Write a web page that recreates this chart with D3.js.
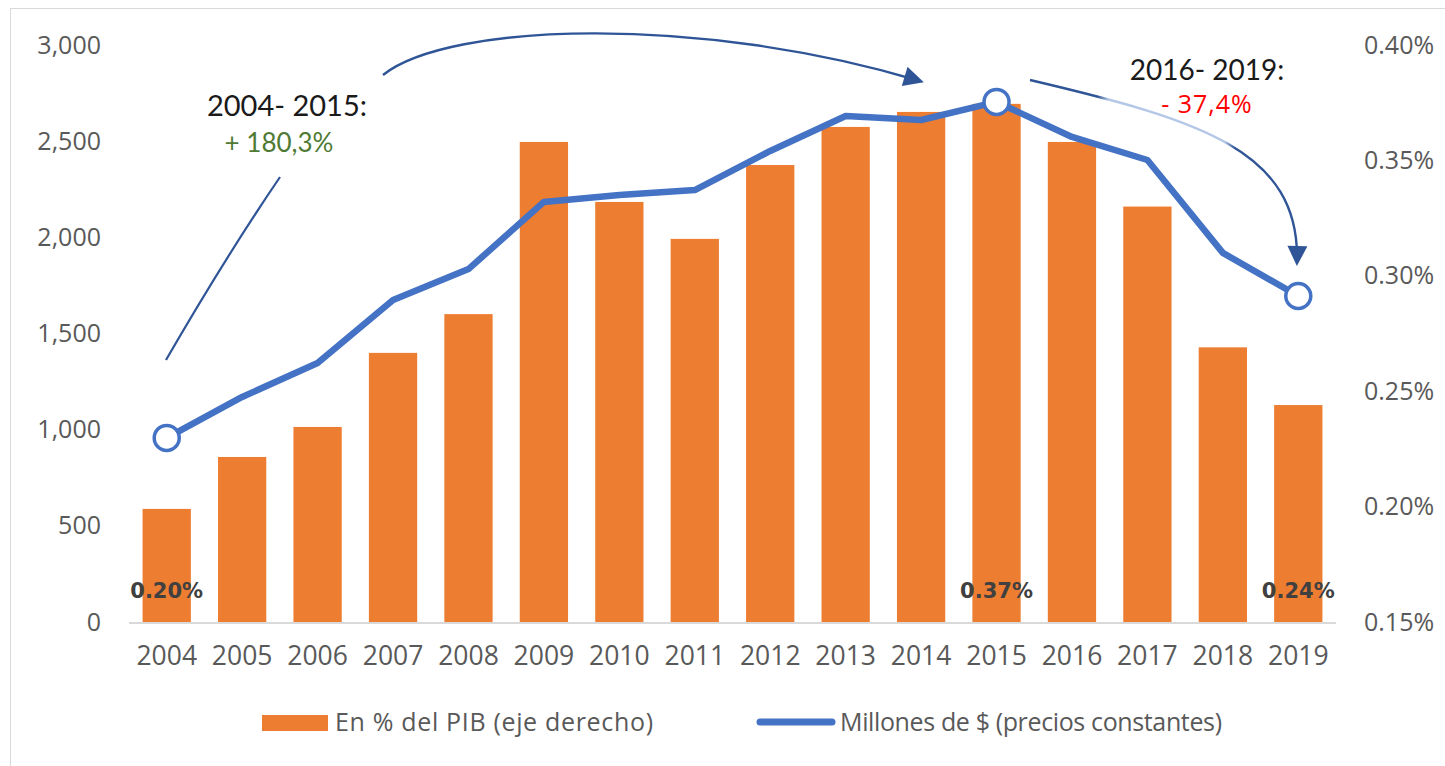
<!DOCTYPE html>
<html>
<head>
<meta charset="utf-8">
<script src="https://cdn.jsdelivr.net/npm/d3@7"></script>
<style>
  html, body { margin: 0; padding: 0; background: #fff; }
  svg { display: block; }
</style>
</head>
<body>
<svg id="chart" width="1445" height="766"></svg>
<script>
// ---- Data ----
const years = ["2004","2005","2006","2007","2008","2009","2010","2011","2012","2013","2014","2015","2016","2017","2018","2019"];
const pibPct = [0.199, 0.2215, 0.2345, 0.2666, 0.2834, 0.358, 0.332, 0.316, 0.348, 0.3645, 0.371, 0.3745, 0.358, 0.330, 0.269, 0.244];
const millones = [957, 1170, 1347, 1674, 1835, 2184, 2220, 2246, 2449, 2631, 2610, 2704, 2522, 2402, 1919, 1695];
const leftTicks = [0, 500, 1000, 1500, 2000, 2500, 3000];
const rightTicks = [0.15, 0.20, 0.25, 0.30, 0.35, 0.40];
const markerYears = ["2004", "2015", "2019"];
const pctLabelYears = ["2004", "2015", "2019"];
const pctLabelTexts = ["0.20%", "0.37%", "0.24%"];
const legendLabels = ["En % del PIB (eje derecho)", "Millones de $ (precios constantes)"];
const annoLeft = ["2004- 2015:", "+ 180,3%"];
const annoRight = ["2016- 2019:", "- 37,4%"];

// ---- Layout ----
const svg = d3.select("#chart");
const plotL = 129, plotR = 1336, plotTop = 45, plotBottom = 622;
const orange = "#ED7D31", blue = "#4472C4", arrowBlue = "#2F5597";
const tickColor = "#595959";
const font = "'Open Sans', sans-serif";

// frame
svg.append("rect").attr("x", 10.5).attr("y", 8.5).attr("width", 1445).attr("height", 770)
  .attr("fill", "none").attr("stroke", "#d9d9d9").attr("stroke-width", 1);

const x = d3.scaleBand().domain(years).range([plotL, plotR]).paddingInner(0.36).paddingOuter(0.18);
const yL = d3.scaleLinear().domain([0, 3000]).range([plotBottom, plotTop]);
const yR = d3.scaleLinear().domain([0.15, 0.40]).range([plotBottom, plotTop]);

// bars
svg.append("g").selectAll("rect").data(years).join("rect")
  .attr("x", d => x(d))
  .attr("width", x.bandwidth())
  .attr("y", (d, i) => yR(pibPct[i]))
  .attr("height", (d, i) => yR(0.15) - yR(pibPct[i]))
  .attr("fill", orange);

// x axis line
svg.append("line").attr("x1", plotL).attr("x2", plotR).attr("y1", plotBottom + 1).attr("y2", plotBottom + 1)
  .attr("stroke", "#d9d9d9").attr("stroke-width", 2);

// left axis
const leftAxis = d3.axisLeft(yL).tickValues(leftTicks).tickSize(0).tickPadding(0).tickFormat(d3.format(","));
const gL = svg.append("g").attr("transform", "translate(101,0)").call(leftAxis);
gL.select(".domain").remove();
gL.selectAll("text").attr("fill", tickColor).style("font-family", font).style("font-size", "25px");

// right axis
const rightAxis = d3.axisRight(yR).tickValues(rightTicks).tickSize(0).tickPadding(0).tickFormat(d => d.toFixed(2) + "%");
const gR = svg.append("g").attr("transform", "translate(1364,0)").call(rightAxis);
gR.select(".domain").remove();
gR.selectAll("text").attr("fill", tickColor).style("font-family", font).style("font-size", "25px");

// bottom axis
const bottomAxis = d3.axisBottom(x).tickSize(0).tickPadding(0);
const gB = svg.append("g").attr("transform", "translate(0,646)").call(bottomAxis);
gB.select(".domain").remove();
gB.selectAll("text").attr("fill", tickColor).style("font-family", font).style("font-size", "26.5px").attr("dy", "0.71em");

// pct data labels
svg.append("g").selectAll("text").data(pctLabelYears).join("text")
  .attr("x", d => x(d) + x.bandwidth() / 2)
  .attr("y", 598)
  .attr("text-anchor", "middle")
  .attr("fill", "#404040")
  .style("font-family", "'DejaVu Sans', sans-serif")
  .style("font-weight", "bold")
  .style("font-size", "21px")
  .text((d, i) => pctLabelTexts[i]);

// line
const line = d3.line().x((d, i) => x(years[i]) + x.bandwidth() / 2).y(d => yL(d));
svg.append("path").datum(millones).attr("d", line)
  .attr("fill", "none").attr("stroke", blue).attr("stroke-width", 6.5)
  .attr("stroke-linejoin", "round").attr("stroke-linecap", "round");

// markers
svg.append("g").selectAll("circle").data(markerYears).join("circle")
  .attr("cx", d => x(d) + x.bandwidth() / 2)
  .attr("cy", d => yL(millones[years.indexOf(d)]))
  .attr("r", 12.5)
  .attr("fill", "#fff").attr("stroke", blue).attr("stroke-width", 3.5);

// arrows
const defs = svg.append("defs");
defs.append("marker").attr("id", "ah").attr("viewBox", "0 0 10 10").attr("refX", 8).attr("refY", 5)
  .attr("markerWidth", 22).attr("markerHeight", 20).attr("markerUnits", "userSpaceOnUse")
  .attr("orient", "auto")
  .append("path").attr("d", "M0,0 L10,5 L0,10 Z").attr("fill", arrowBlue);

const grad = defs.append("linearGradient").attr("id", "fade").attr("gradientUnits", "userSpaceOnUse")
  .attr("x1", 1030).attr("y1", 0).attr("x2", 1300).attr("y2", 0);
[[0, arrowBlue], [0.25, arrowBlue], [0.29, "#b4c7e7"], [0.72, "#b4c7e7"], [0.76, arrowBlue], [1, arrowBlue]]
  .forEach(([o, c]) => grad.append("stop").attr("offset", o).attr("stop-color", c));

svg.append("path").attr("d", "M166,360 Q225,258 280,177")
  .attr("fill", "none").attr("stroke", arrowBlue).attr("stroke-width", 2.2);
svg.append("path").attr("d", "M383,75 C450,22 700,15 920,81")
  .attr("fill", "none").attr("stroke", arrowBlue).attr("stroke-width", 2.4).attr("marker-end", "url(#ah)");
svg.append("path").attr("d", "M1030,80 C1200,120 1300,150 1297,262")
  .attr("fill", "none").attr("stroke", "url(#fade)").attr("stroke-width", 2.4).attr("marker-end", "url(#ah)");

// annotations
svg.append("text").attr("x", 287).attr("y", 116).attr("text-anchor", "middle")
  .attr("fill", "#1a1a1a").style("font-family", "Lato, sans-serif").style("font-size", "29px").text(annoLeft[0]);
svg.append("text").attr("x", 279).attr("y", 152).attr("text-anchor", "middle")
  .attr("fill", "#4f7a34").style("font-family", "Lato, sans-serif").style("font-size", "26px").text(annoLeft[1]);
svg.append("text").attr("x", 1207).attr("y", 80).attr("text-anchor", "middle")
  .attr("fill", "#1a1a1a").style("font-family", "Lato, sans-serif").style("font-size", "28px").text(annoRight[0]);
svg.append("text").attr("x", 1207).attr("y", 113).attr("text-anchor", "middle")
  .attr("fill", "#ff0000").style("font-family", font).style("font-size", "25px").style("letter-spacing", "1px").text(annoRight[1]);

// legend
const lg = svg.append("g");
lg.append("rect").attr("x", 262).attr("y", 715).attr("width", 66).attr("height", 16).attr("fill", orange);
lg.append("text").attr("x", 335).attr("y", 731).attr("fill", tickColor)
  .attr("textLength", 318).attr("lengthAdjust", "spacing")
  .style("font-family", font).style("font-size", "25px").text(legendLabels[0]);
lg.append("line").attr("x1", 760).attr("x2", 832).attr("y1", 722).attr("y2", 722)
  .attr("stroke", blue).attr("stroke-width", 7).attr("stroke-linecap", "round");
lg.append("text").attr("x", 840).attr("y", 731).attr("fill", tickColor)
  .attr("textLength", 382).attr("lengthAdjust", "spacing")
  .style("font-family", font).style("font-size", "25px").text(legendLabels[1]);
</script>
</body>
</html>
